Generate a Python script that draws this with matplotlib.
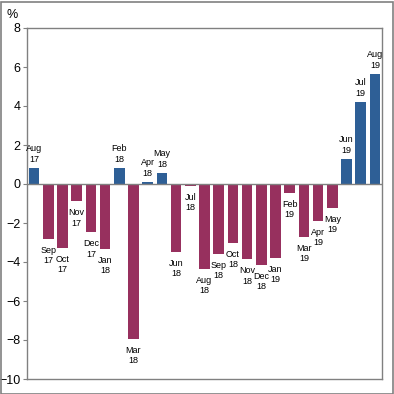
import matplotlib
matplotlib.use("Agg")
import matplotlib.pyplot as plt
from matplotlib.patches import Rectangle

# DATA
months = ["Aug", "Sep", "Oct", "Nov", "Dec", "Jan", "Feb", "Mar", "Apr", "May",
          "Jun", "Jul", "Aug", "Sep", "Oct", "Nov", "Dec", "Jan", "Feb", "Mar",
          "Apr", "May", "Jun", "Jul", "Aug"]
years = ["17", "17", "17", "17", "17", "18", "18", "18", "18", "18",
         "18", "18", "18", "18", "18", "18", "18", "19", "19", "19",
         "19", "19", "19", "19", "19"]
values = [0.82, -2.8, -3.27, -0.87, -2.46, -3.32, 0.82, -7.93, 0.1, 0.56,
          -3.47, -0.08, -4.34, -3.57, -3.01, -3.85, -4.14, -3.78, -0.44, -2.7,
          -1.88, -1.21, 1.28, 4.2, 5.64]
yticks = [-10, -8, -6, -4, -2, 0, 2, 4, 6, 8]

BLUE = "#2e5f96"
MAROON = "#97305e"
GREY = "#808080"

plt.rcParams["font.family"] = ["Liberation Sans", "DejaVu Sans"]

fig = plt.figure(figsize=(3.94, 3.94), dpi=100)
ax = fig.add_axes([27 / 394, 15 / 394, 355 / 394, 351 / 394])

x = list(range(len(values)))
colors = [BLUE if v >= 0 else MAROON for v in values]
ax.bar(x, values, width=0.75, color=colors, zorder=2)
ax.axhline(0, color=GREY, lw=1, zorder=3)

# month / year labels
for i, v in enumerate(values):
    lab = months[i] + "\n" + years[i]
    if v >= 0:
        ax.annotate(lab, (i, v), xytext=(0, 3), textcoords="offset points",
                    ha="center", va="bottom", fontsize=6.5, linespacing=1.25)
    else:
        ax.annotate(lab, (i, v), xytext=(0, -5), textcoords="offset points",
                    ha="center", va="top", fontsize=6.5, linespacing=1.25)

ax.set_xlim(-0.5, 24.5)
ax.set_ylim(-10, 8)
ax.set_yticks(yticks)
ax.set_xticks([])
ax.tick_params(axis="y", direction="out", length=3, color=GREY, labelsize=9, pad=1.5)
for s in ax.spines.values():
    s.set_color(GREY)
    s.set_linewidth(1)

fig.text(12 / 394, 1 - 15 / 394, "%", fontsize=9, ha="center", va="center")

# outer border
fig.patches.append(Rectangle((0.5 / 394, 0.5 / 394), 392 / 394, 392 / 394,
                             transform=fig.transFigure, fill=False,
                             edgecolor=GREY, lw=1.2))

fig.savefig("out.png", dpi=100)
